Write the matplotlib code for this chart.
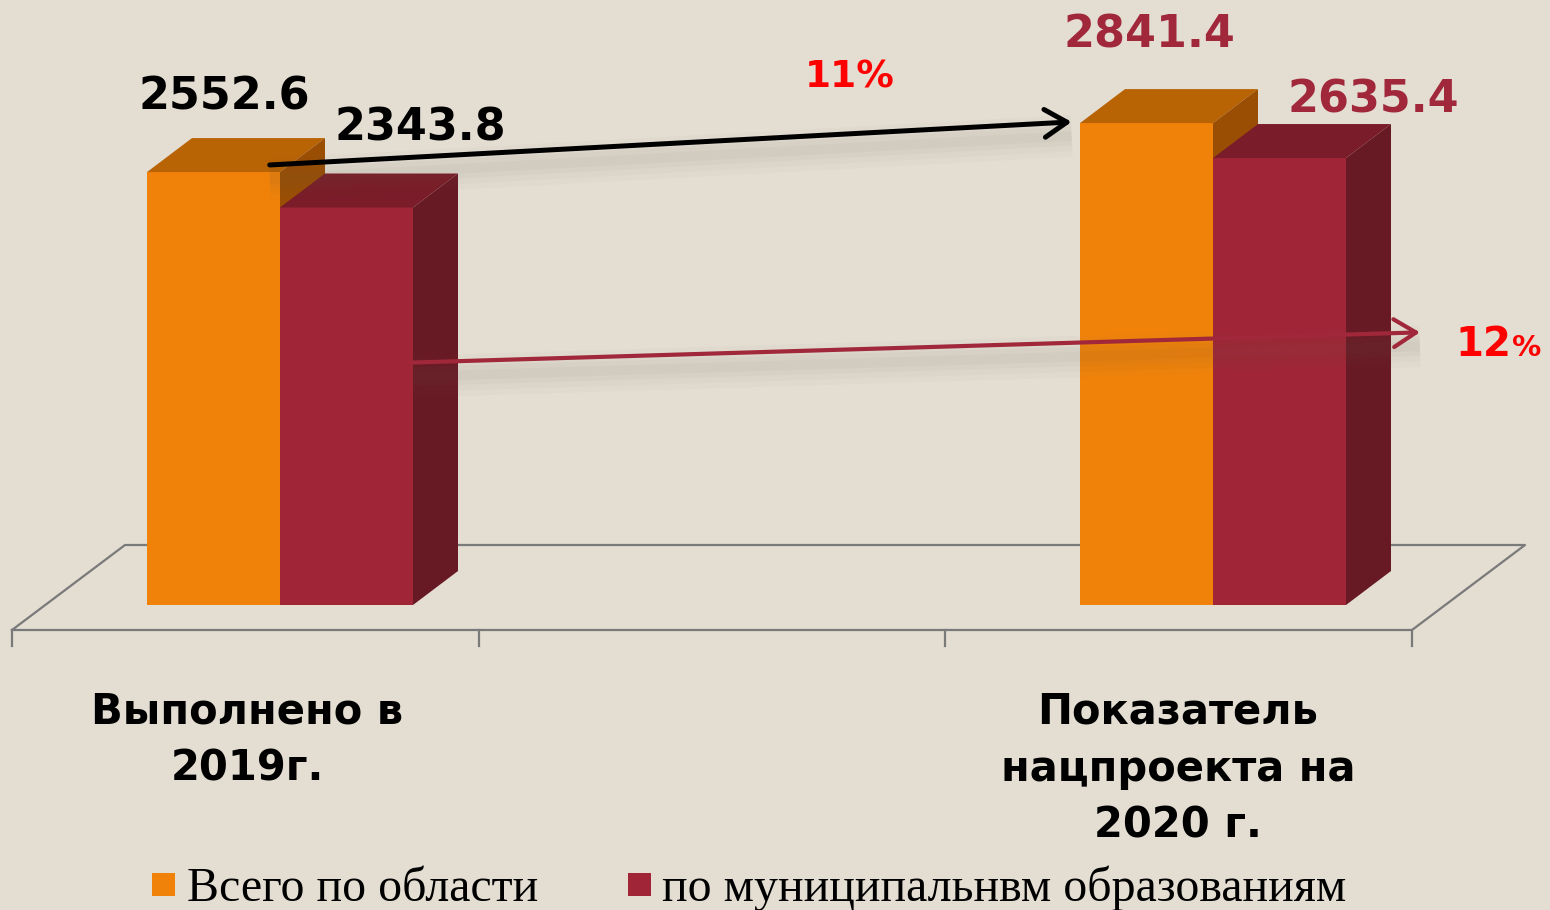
import matplotlib.pyplot as plt
from matplotlib.patches import Polygon, Rectangle

# data
categories = ["Выполнено в\n2019г.", "Показатель\nнацпроекта на\n2020 г."]
series_names = ["Всего по области", "по муниципальнвм образованиям"]
total_region = [2552.6, 2841.4]
municipal = [2343.8, 2635.4]
growth_labels = ["11%", "12"]

BG = "#e3ddd2"
ORANGE = ("#f0820a", "#b86304", "#9a4e04")  # front, top, side
RED = ("#a02536", "#7a1c29", "#681a24")

W, H = 1550, 910
fig = plt.figure(figsize=(W / 100, H / 100), dpi=100, facecolor=BG)
ax = fig.add_axes([0, 0, 1, 1])
ax.set_facecolor(BG)
ax.axis("off")

# pixel layout -> data units (x: category index, y: value)
UNIT_PX = 933.0
X0_PX = 280.0
VAL_PX = 0.1696
BASE_PX = 605.0
ax.set_xlim(-X0_PX / UNIT_PX, (W - X0_PX) / UNIT_PX)
ax.set_ylim(-(H - BASE_PX) / VAL_PX, BASE_PX / VAL_PX)


def px(x, y):
    return (x - X0_PX) / UNIT_PX, (BASE_PX - y) / VAL_PX


BAR_W = 133 / UNIT_PX
DX, DY = 45 / UNIT_PX, 34 / VAL_PX
pos = list(range(len(categories)))

# floor
fx0, fy0 = px(12, 630)
fx1, _ = px(1412, 630)
fdx, fdy = 113 / UNIT_PX, 85 / VAL_PX
gray = "#7a7a7a"
ax.plot([fx0, fx1, fx1 + fdx, fx0 + fdx, fx0], [fy0, fy0, fy0 + fdy, fy0 + fdy, fy0],
        color=gray, lw=1.6, zorder=1)
_, tick_bot = px(0, 646)
for i in range(4):
    tx = fx0 + i * (fx1 - fx0) / 3
    ax.plot([tx, tx], [fy0, tick_bot], color=gray, lw=1.6, zorder=1)


def bars3d(xs, vals, colors, z):
    ax.bar(xs, vals, width=BAR_W, align="edge", color=colors[0], zorder=z)
    for x, v in zip(xs, vals):
        x1 = x + BAR_W
        ax.add_patch(Polygon([(x, v), (x1, v), (x1 + DX, v + DY), (x + DX, v + DY)],
                             closed=True, fc=colors[1], ec="none", zorder=z))
        ax.add_patch(Polygon([(x1, 0), (x1, v), (x1 + DX, v + DY), (x1 + DX, DY)],
                             closed=True, fc=colors[2], ec="none", zorder=z))


for i in pos:
    bars3d([i - BAR_W], [total_region[i]], ORANGE, 2 + 2 * i)
    bars3d([i], [municipal[i]], RED, 3 + 2 * i)

# growth arrows with soft shadows
def arrow(p0, p1, color, lw):
    sh = 14 / VAL_PX
    for w, a in [(30, 0.025), (22, 0.03), (14, 0.035), (7, 0.04)]:
        ax.plot([p0[0], p1[0]], [p0[1] - sh, p1[1] - sh], color="#6a6050",
                lw=w, alpha=a, solid_capstyle="butt", zorder=8)
    ax.annotate("", xy=p1, xytext=p0, zorder=9,
                arrowprops=dict(arrowstyle="->,head_length=0.8,head_width=0.5",
                                color=color, lw=lw, shrinkA=0, shrinkB=0,
                                mutation_scale=20))


arrow((pos[0] - 0.011, total_region[0] + 42),
      (pos[1] - BAR_W - 0.009, total_region[1] + 7), "black", 3.6)
arrow((pos[0] + BAR_W, 0.61 * municipal[0]),
      (pos[1] + BAR_W + DX + 0.031, 0.61 * municipal[1]), "#a0283a", 3.0)

# value labels
num_font = dict(family="DejaVu Sans", fontweight="bold", fontsize=32)
for v, xy, c in [(total_region[0], (224, 97), "black"), (municipal[0], (420, 128), "black"),
                 (total_region[1], (1149, 35), "#a0283a"), (municipal[1], (1373, 100), "#a0283a")]:
    ax.text(*px(*xy), f"{v:.1f}", color=c, ha="center", va="center", zorder=10, **num_font)

ax.text(*px(850, 78), growth_labels[0], color="#ff0000", ha="center", va="center",
        fontsize=27, fontweight="bold", zorder=10)
ax.text(*px(1511, 356), growth_labels[1], color="#ff0000", ha="right", va="baseline",
        fontsize=29, fontweight="bold", zorder=10)
ax.text(*px(1512, 356), "%", color="#ff0000", ha="left", va="baseline",
        fontsize=21, fontweight="bold", zorder=10)

# category labels
for i, lbl in enumerate(categories):
    ax.text(*px(247 + i * 931, 691), lbl, ha="center", va="top", fontsize=30,
            fontweight="bold", linespacing=1.45, color="black", zorder=10)

# legend
for (sx, tx), name, c in zip([(152, 187), (628, 662)], series_names, [ORANGE[0], RED[0]]):
    x0, y0 = px(sx, 896)
    ax.add_patch(Rectangle((x0, y0), 23 / UNIT_PX, 23 / VAL_PX, fc=c, ec="none"))
    ax.text(*px(tx, 901), name, ha="left", va="baseline", fontsize=34.5,
            family="Liberation Serif", color="black")

fig.savefig("out.png", dpi=100, facecolor=BG)
